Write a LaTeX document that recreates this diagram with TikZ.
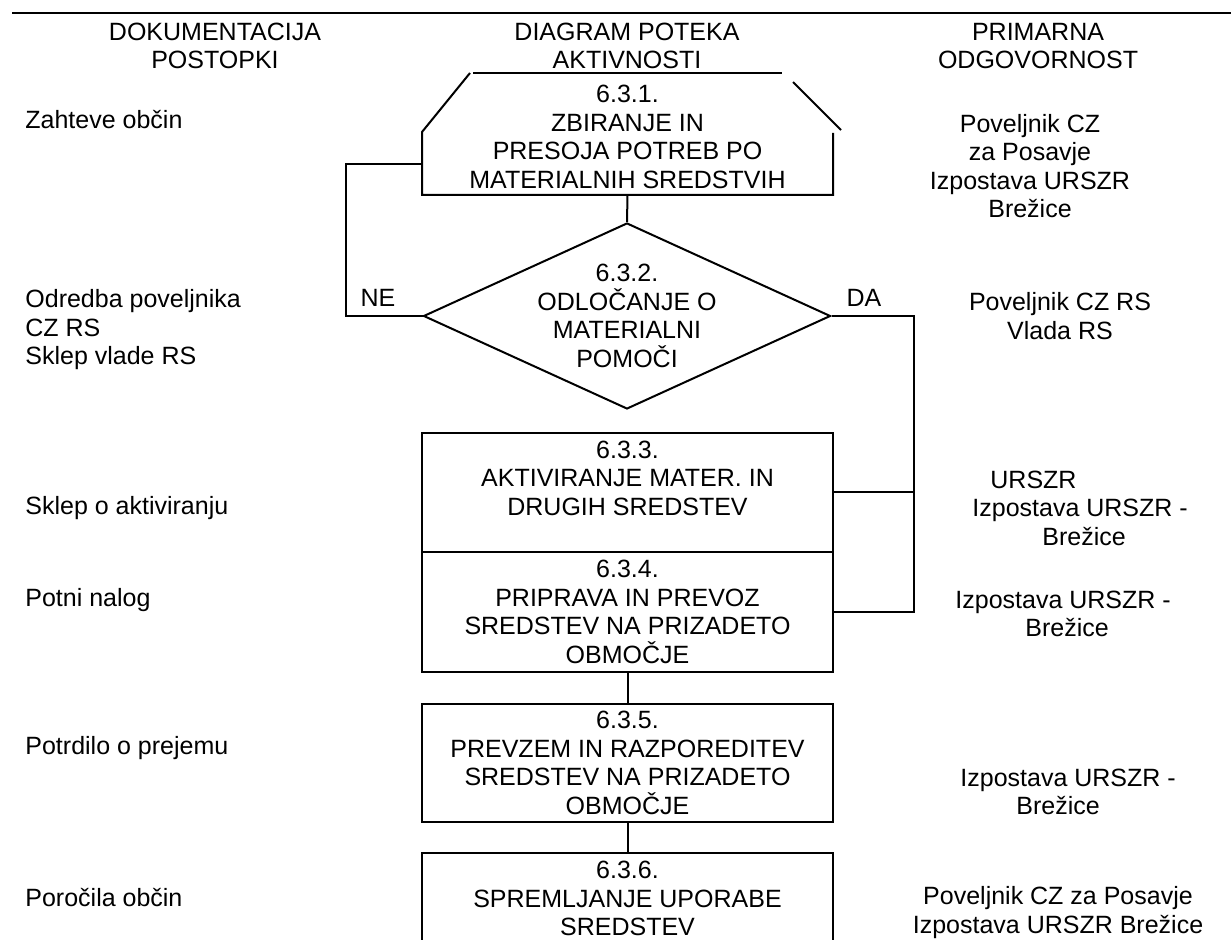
\documentclass[tikz,border=0pt]{standalone}
\usepackage{fontspec}
\setmainfont{Liberation Sans}
\usetikzlibrary{shapes.geometric}

\begin{document}
\begin{tikzpicture}[x=0.5pt, y=-0.5pt,
    every node/.style={font=\fontsize{12.5}{14.25}\selectfont, inner sep=0pt},
    korak/.style={draw, line width=1pt, minimum width=205.5pt, align=center},
    odlocitev/.style={draw, diamond, shape aspect=2.2, line width=1pt,
        minimum width=203.5pt, minimum height=93pt, inner sep=-6pt, align=center},
    opis/.style={anchor=west, align=left},
    nosilec/.style={align=center}]
    \useasboundingbox (0,0) rectangle (1231,940);
    \clip (0,0) rectangle (1231,940);

    % glava
    \draw[line width=1.4pt] (12,13) -- (1231,13);
    \node[align=center] (hdok) at (215,46) {DOKUMENTACIJA\\POSTOPKI};
    \node[align=center] (hdia) at (627,46) {DIAGRAM POTEKA\\AKTIVNOSTI};
    \node[align=center] (hodg) at (1038,46) {PRIMARNA\\ODGOVORNOST};

    % 6.3.1
    \node[align=center, minimum height=58pt] (zbir) at (627.5,137)
        {6.3.1.\\ZBIRANJE IN\\PRESOJA POTREB PO\\MATERIALNIH SREDSTVIH};
    \draw[line width=1pt] (473,73) -- (782,73);
    \draw[line width=1pt] (470,73) -- (422,132) -- (422,195) -- (833,195) -- (833,133);
    \draw[line width=1pt] (793,82) -- (841,130);

    % 6.3.2
    \node[odlocitev] (odl) at (627,316)
        {6.3.2.\\ODLOČANJE O\\MATERIALNI\\POMOČI};

    % 6.3.3 - 6.3.6
    \node[korak, minimum height=59.5pt] (akt) at (627.5,492.5)
        {6.3.3.\\AKTIVIRANJE MATER. IN\\DRUGIH SREDSTEV\\ \mbox{}};
    \node[korak, minimum height=60pt] (prip) at (627.5,612)
        {6.3.4.\\PRIPRAVA IN PREVOZ\\SREDSTEV NA PRIZADETO\\OBMOČJE};
    \node[korak, minimum height=59pt] (prev) at (627.5,763)
        {6.3.5.\\PREVZEM IN RAZPOREDITEV\\SREDSTEV NA PRIZADETO\\OBMOČJE};
    \node[korak, minimum height=45.5pt] (spre) at (627.5,898.5)
        {6.3.6.\\SPREMLJANJE UPORABE\\SREDSTEV};

    % povezave
    \coordinate (nein) at (422,164);
    \coordinate (nekol) at (346,164);
    \coordinate (dakol) at (914,316);
    \draw[line width=1pt] (zbir.south) -- (odl.north);
    \draw[line width=1pt] (odl.west) -| (nekol) -- (nein);
    \draw[line width=1pt] (odl.east) -- (dakol) |- (prip.east);
    \draw[line width=1pt] (akt.east) -- (akt.east -| dakol);
    \draw[line width=1pt] (prip.south) -- (prev.north);
    \draw[line width=1pt] (prev.south) -- (spre.north);
    \node (ne) at (378,298) {NE};
    \node (da) at (864,298) {DA};

    % dokumentacija
    \node[opis] (zah) at (25,120) {Zahteve občin};
    \node[opis] (odr) at (25,330) {Odredba poveljnika\\CZ RS\\Sklep vlade RS};
    \node[opis] (skl) at (25,508) {Sklep o aktiviranju};
    \node[opis] (pot) at (25,600) {Potni nalog};
    \node[opis] (prj) at (25,748) {Potrdilo o prejemu};
    \node[opis] (por) at (25,898) {Poročila občin};

    % odgovornost
    \node[nosilec] (odg1) at (1030,166) {Poveljnik CZ\\za Posavje\\Izpostava URSZR\\Brežice};
    \node[nosilec] (odg2) at (1060,316) {Poveljnik CZ RS\\Vlada RS};
    \node[opis] (odg3) at (972,508) {\hspace*{9pt}URSZR\\Izpostava URSZR -\\\hspace*{35pt}Brežice};
    \node[opis] (odg4) at (955,614) {Izpostava URSZR -\\\hspace*{35pt}Brežice};
    \node[opis] (odg5) at (960,792) {Izpostava URSZR -\\\hspace*{28pt}Brežice};
    \node[nosilec] (odg6) at (1058,912.5) {Poveljnik CZ za Posavje\\Izpostava URSZR Brežice};
\end{tikzpicture}
\end{document}
